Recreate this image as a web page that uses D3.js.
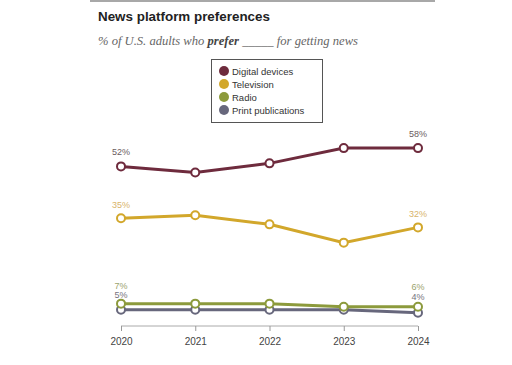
<!DOCTYPE html>
<html><head><meta charset="utf-8">
<script src="https://cdn.jsdelivr.net/npm/d3@7"></script>
<style>body{margin:0;background:#fff;} svg{display:block;}</style>
</head><body>
<svg id="c" width="512" height="365"></svg>
<script>
const years = ["2020","2021","2022","2023","2024"];
const seriesNames = ["Digital devices","Television","Radio","Print publications"];
const digital = [52,50,53,58,58];
const television = [35,36,33,27,32];
const radio = [7,7,7,6,6];
const print = [5,5,5,5,4];
const colors = ["#6e2b3d","#d2a72b","#8c9a3c","#67677c"];
const labelColors = ["#6a5c60","#d8b46a","#9ba36e","#76737e"];
const values = [digital, television, radio, print];

const svg = d3.select("#c");
svg.append("rect").attr("x",90).attr("y",0).attr("width",345).attr("height",2).attr("fill","#a8a8a8");
svg.append("text").attr("x",98).attr("y",21).text("News platform preferences")
  .attr("font-family","Liberation Sans, Arial, sans-serif").attr("font-weight","bold").attr("font-size",13.4).attr("fill","#222");
const sub = svg.append("text").attr("x",98).attr("y",45)
  .attr("font-family","Liberation Serif, Georgia, serif").attr("font-style","italic").attr("font-size",12.6).attr("fill","#666");
sub.append("tspan").text("% of U.S. adults who ");
sub.append("tspan").attr("font-weight","bold").attr("fill","#444").text("prefer");
sub.append("tspan").text(" _____ for getting news");

const x = d3.scalePoint().domain(years).range([121,418]);
const y = d3.scaleLinear().domain([0,60]).range([325,142]);

// axis
const ax = svg.append("g").attr("transform","translate(0,326)")
  .call(d3.axisBottom(x).tickSize(5).tickPadding(7).tickSizeOuter(0));
ax.select(".domain").attr("stroke","#aaa").attr("d","M121,0H418");
ax.selectAll(".tick line").attr("stroke","#999");
ax.selectAll(".tick text").attr("font-family","Liberation Sans, Arial, sans-serif").attr("font-size",10).attr("fill","#444");

const line = d3.line().x((d,i)=>x(years[i])).y(d=>y(d));
[3,2,1,0].forEach(k=>{
  svg.append("path").datum(values[k]).attr("d",line).attr("fill","none")
    .attr("stroke",colors[k]).attr("stroke-width",3);
});
[3,2,1,0].forEach(k=>{
  svg.selectAll(null).data(values[k]).enter().append("circle")
    .attr("cx",(d,i)=>x(years[i])).attr("cy",d=>y(d)).attr("r",4)
    .attr("fill","#fff").attr("stroke",colors[k]).attr("stroke-width",2);
});

// labels
const lab = (k, i, yy) => {
  svg.append("text").attr("x",x(years[i])).attr("y",yy)
    .attr("text-anchor","middle").attr("font-family","Liberation Sans, Arial, sans-serif")
    .attr("font-size",9).attr("fill",labelColors[k]).text(values[k][i]+"%");
};
lab(0,0,y(digital[0])-11); lab(0,4,y(digital[4])-11);
lab(1,0,y(television[0])-10); lab(1,4,y(television[4])-10);
lab(2,0,y(radio[0])-15); lab(2,4,y(radio[4])-17);
lab(3,0,y(print[0])-12); lab(3,4,y(print[4])-13);

// legend
svg.append("rect").attr("x",211.5).attr("y",59.5).attr("width",111).attr("height",63)
  .attr("fill","#fff").attr("stroke","#555").attr("stroke-width",1);
seriesNames.forEach((n,k)=>{
  const yy = 71 + k*13;
  svg.append("circle").attr("cx",224).attr("cy",yy).attr("r",5).attr("fill",colors[k]);
  svg.append("text").attr("x",232).attr("y",yy+3.5).text(n)
    .attr("font-family","Liberation Sans, Arial, sans-serif").attr("font-size",9.5).attr("fill","#333");
});
</script>
</body></html>
